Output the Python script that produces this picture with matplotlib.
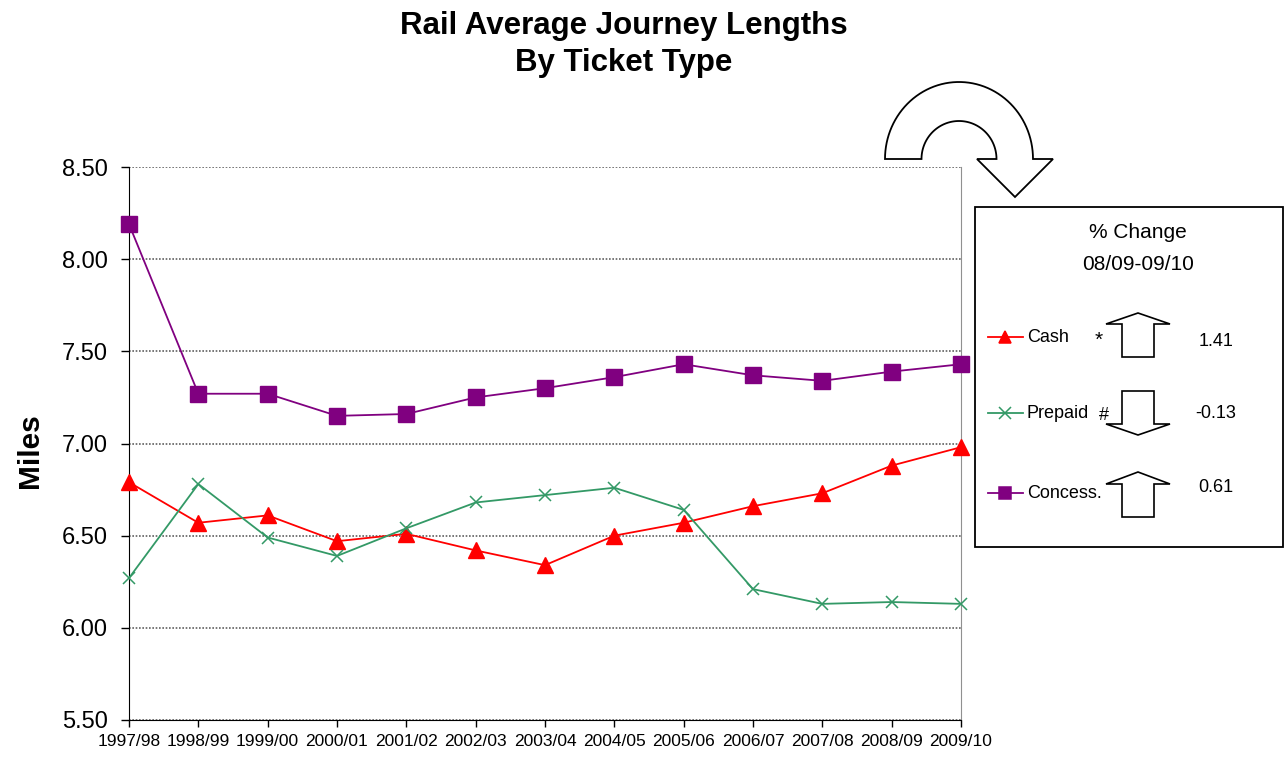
import numpy as np
import matplotlib
matplotlib.use("Agg")
import matplotlib.pyplot as plt
from matplotlib.patches import Polygon, Rectangle

plt.rcParams['font.family'] = ['Liberation Sans', 'DejaVu Sans']

years = ["1997/98", "1998/99", "1999/00", "2000/01", "2001/02", "2002/03", "2003/04",
         "2004/05", "2005/06", "2006/07", "2007/08", "2008/09", "2009/10"]
cash = [6.79, 6.57, 6.61, 6.47, 6.51, 6.42, 6.34, 6.50, 6.57, 6.66, 6.73, 6.88, 6.98]
prepaid = [6.27, 6.78, 6.49, 6.39, 6.54, 6.68, 6.72, 6.76, 6.64, 6.21, 6.13, 6.14, 6.13]
concess = [8.19, 7.27, 7.27, 7.15, 7.16, 7.25, 7.30, 7.36, 7.43, 7.37, 7.34, 7.39, 7.43]
changes = ["1.41", "-0.13", "0.61"]

W, H = 1287, 758
fig = plt.figure(figsize=(W / 100, H / 100), dpi=100)
ax = fig.add_axes([129 / W, 1 - 720 / H, (961 - 129) / W, (720 - 167) / H])

x = np.arange(len(years))
ax.plot(x, cash, color="#FF0000", lw=1.3, marker="^", ms=11.5, clip_on=False, zorder=3)
ax.plot(x, prepaid, color="#339966", lw=1.3, marker="x", ms=9, mew=1.1, clip_on=False, zorder=3)
ax.plot(x, concess, color="#800080", lw=1.3, marker="s", ms=11, clip_on=False, zorder=3)

ax.set_xlim(0, 12)
ax.set_ylim(5.5, 8.5)
ax.set_yticks(np.arange(5.5, 8.51, 0.5))
ax.set_yticklabels([f"{v:.2f}" for v in np.arange(5.5, 8.51, 0.5)], fontsize=17)
ax.set_xticks(x)
ax.set_xticklabels(years, fontsize=12.5)
ax.tick_params(axis="y", direction="out", length=6, width=1, pad=9)
ax.tick_params(axis="x", direction="out", length=5, width=1, pad=5)
ax.yaxis.grid(True, color="#606060", linestyle=(0, (1, 1)), lw=1.2)
ax.set_axisbelow(True)
ax.spines["top"].set_visible(False)
ax.spines["right"].set_color("#909090")
ax.spines["left"].set_color("black")
ax.spines["bottom"].set_color("black")

fig.text(624 / W, 1 - 34 / H, "Rail Average Journey Lengths", ha="center", va="baseline",
         fontsize=22.5, fontweight="bold")
fig.text(624 / W, 1 - 71 / H, "By Ticket Type", ha="center", va="baseline",
         fontsize=22.5, fontweight="bold")
fig.text(30 / W, 1 - 451 / H, "Miles", ha="center", va="center", rotation=90,
         fontsize=21.5, fontweight="bold")

# overlay in pixel coordinates for the side panel
ov = fig.add_axes([0, 0, 1, 1], zorder=5)
ov.set_xlim(0, W)
ov.set_ylim(H, 0)
ov.axis("off")
ov.patch.set_alpha(0)

ov.add_patch(Rectangle((975, 207), 308, 340, fill=False, edgecolor="black", lw=1.3))
ov.text(1138, 233, "% Change", ha="center", va="center", fontsize=15)
ov.text(1138, 265, "08/09-09/10", ha="center", va="center", fontsize=15)

rows = [("Cash", "#FF0000", "^", 337, "*", 1099, 340),
        ("Prepaid", "#339966", "x", 413, "#", 1104, 416),
        ("Concess.", "#800080", "s", 493, "", 0, 0)]
for i, (lab, col, mk, yy, sym, sx, sy) in enumerate(rows):
    ov.plot([988, 1023], [yy, yy], color=col, lw=1.3)
    ov.plot([1005], [yy], color=col, marker=mk, ms=9 if mk != "x" else 8, mew=1.1)
    ov.text(1027, yy, lab, ha="left", va="center", fontsize=13)
    if sym:
        ov.text(sx, sy, sym, ha="center", va="center", fontsize=15 if sym == "*" else 13)
    ov.text(1216, yy + 5 if i == 0 else (yy if i == 1 else yy - 5), changes[i],
            ha="center", va="center", fontsize=13)


def block_arrow(cx, tip, base, end):
    pts = [(cx - 16, end), (cx - 16, base), (cx - 32, base), (cx, tip),
           (cx + 32, base), (cx + 16, base), (cx + 16, end)]
    ov.add_patch(Polygon(pts, closed=True, facecolor="white", edgecolor="black", lw=1.2))


block_arrow(1138, 313, 324, 357)
block_arrow(1138, 435, 424, 391)
block_arrow(1138, 472, 484, 517)

# curved arrow above the panel
cx, cy = 959, 159
t = np.linspace(np.pi, 0, 60)
outer = [(cx + 74 * np.cos(a), cy - 77 * np.sin(a)) for a in t]
inner = [(cx + 37.5 * np.cos(a), cy - 38 * np.sin(a)) for a in t[::-1]]
pts = outer + [(1053, 159), (1015, 197), (977, 159)] + inner
ov.add_patch(Polygon(pts, closed=True, facecolor="white", edgecolor="black", lw=1.3))

fig.savefig("out.png", dpi=100)
